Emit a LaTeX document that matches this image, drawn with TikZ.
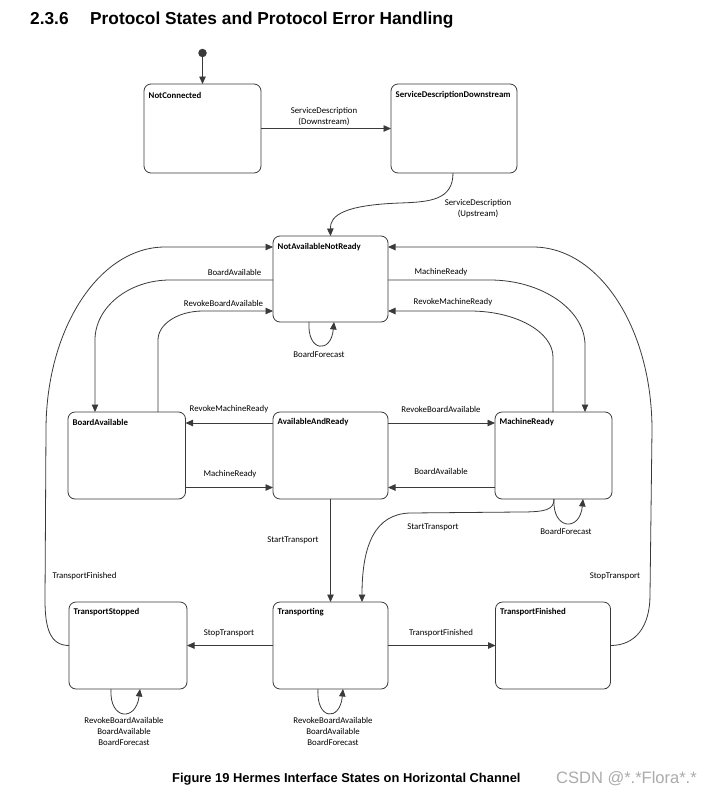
\documentclass[tikz,border=0pt]{standalone}
\usepackage{fontspec}
\setmainfont{Carlito}
\newfontfamily\arialfont{Liberation Sans}
\usetikzlibrary{arrows.meta}
\definecolor{linec}{HTML}{3A3A3A}
\definecolor{wmark}{HTML}{ABABAB}
\begin{document}
\begin{tikzpicture}[x=1pt,y=-1pt,
  state/.style={draw=linec, line width=0.8pt, rounded corners=7pt, inner sep=0pt, outer sep=0pt},
  sname/.style={font=\fontsize{8.8}{10}\selectfont\bfseries, anchor=west, inner sep=0pt},
  tr/.style={font=\fontsize{8.8}{11}\selectfont, inner sep=0pt, align=center},
  arr/.style={draw=linec, line width=0.8pt, -{Triangle[length=7.5pt,width=6.5pt]}},
  ttl/.style={font={\arialfont\bfseries\fontsize{17.3}{20}\selectfont}, anchor=base west, inner sep=0pt},
  captext/.style={font={\arialfont\bfseries\fontsize{12.9}{15}\selectfont}, anchor=base west, inner sep=0pt}
]
\useasboundingbox (0,0) rectangle (715,793);
\fill[white] (0,0) rectangle (715,793);

% title
\node[ttl] (secnum) at (30,24) {2.3.6};
\node[ttl] (title) at (90,24) {Protocol States and Protocol Error Handling};

% states
\node[state, minimum width=117pt, minimum height=89pt] (NC) at (202.5,128.5) {};
\node[state, minimum width=126pt, minimum height=89pt] (SDD) at (454,128.5) {};
\node[state, minimum width=115pt, minimum height=86pt] (NANR) at (330.5,279) {};
\node[state, minimum width=117.5pt, minimum height=87pt] (BA) at (126.75,455.5) {};
\node[state, minimum width=115pt, minimum height=87pt] (AAR) at (330.5,455.5) {};
\node[state, minimum width=117pt, minimum height=87pt] (MR) at (553.5,455.5) {};
\node[state, minimum width=118pt, minimum height=87pt] (TS) at (128,645.5) {};
\node[state, minimum width=115pt, minimum height=87pt] (TR) at (330.5,645.5) {};
\node[state, minimum width=115pt, minimum height=87pt] (TF) at (553,645.5) {};

\node[sname] (NCl) at ([shift={(4.5pt,-11pt)}]NC.north west) {NotConnected};
\node[sname] (SDDl) at ([shift={(4.5pt,-11pt)}]SDD.north west) {ServiceDescriptionDownstream};
\node[sname] (NANRl) at ([shift={(4.5pt,-11pt)}]NANR.north west) {NotAvailableNotReady};
\node[sname] (BAl) at ([shift={(4.5pt,-10.5pt)}]BA.north west) {BoardAvailable};
\node[sname] (AARl) at ([shift={(4.5pt,-10.5pt)}]AAR.north west) {AvailableAndReady};
\node[sname] (MRl) at ([shift={(4.5pt,-10.5pt)}]MR.north west) {MachineReady};
\node[sname] (TSl) at ([shift={(4.5pt,-10.5pt)}]TS.north west) {TransportStopped};
\node[sname] (TRl) at ([shift={(4.5pt,-10.5pt)}]TR.north west) {Transporting};
\node[sname] (TFl) at ([shift={(4.5pt,-10.5pt)}]TF.north west) {TransportFinished};

% initial
\node[circle, fill=linec, inner sep=0pt, minimum size=8.5pt] (init) at (202.5,53) {};
\draw[arr] (init) -- (NC);

% top transitions
\draw[arr] (NC) -- (SDD);
\draw[arr] (SDD.south -| 453,0) .. controls (453,200) and (430,202) .. (400,203)
  .. controls (345,205) and (330,215) .. (NANR.north);

% left side
\draw[arr] (TS.west) .. controls (50,645.5) and (45,628) .. (45,600) -- (46,430)
  .. controls (46,329) and (99,247) .. (165,247) -- (NANR.west |- 0,247);
\draw[arr] (NANR.west |- 0,280) -- (170,280) .. controls (129,280) and (95,307) .. (95,340) -- (BA.north -| 95,0);
\draw[arr] (BA.north -| 158,0) -- (158,340) .. controls (158,324) and (178,311) .. (203,311) -- (NANR.west |- 0,311);

% right side
\draw[arr] (NANR.east |- 0,280) -- (490,280) .. controls (542,280) and (585,310) .. (585,345) -- (MR.north -| 585,0);
\draw[arr] (MR.north -| 553,0) -- (553,357) .. controls (553,332) and (516,311) .. (470,311) -- (NANR.east |- 0,311);
\draw[arr] (TF.east) .. controls (636,645.5) and (650,626) .. (650,595) -- (652,430)
  .. controls (652,328) and (599,247) .. (533,247) -- (NANR.east |- 0,247);

% self loops
\draw[arr] (NANR.south -| 309,0) .. controls (307,352) and (331,354) .. (NANR.south -| 334,0);
\draw[arr] (MR.south -| 554,0) .. controls (552,530) and (580,532) .. (MR.south -| 583,0);
\draw[arr] (TS.south -| 111,0) .. controls (109,720) and (136,722) .. (TS.south -| 140,0);
\draw[arr] (TR.south -| 318,0) .. controls (316,720) and (340,722) .. (TR.south -| 343,0);

% middle row
\draw[arr] (AAR.west |- 0,423) -- (BA.east |- 0,423);
\draw[arr] (BA.east |- 0,487.5) -- (AAR.west |- 0,487.5);
\draw[arr] (AAR.east |- 0,423) -- (MR.west |- 0,423);
\draw[arr] (MR.west |- 0,487.5) -- (AAR.east |- 0,487.5);
\draw[arr] (AAR) -- (TR);
\draw[arr] (MR.south -| 554,0) .. controls (554,510) and (545,512) .. (520,512) -- (410,513)
  .. controls (375,514) and (362,545) .. (TR.north -| 362,0);

% bottom row
\draw[arr] (TR) -- (TS);
\draw[arr] (TR) -- (TF);

% transition labels
\node[tr] (lSDd) at (324,116.5) {ServiceDescription\\(Downstream)};
\node[tr] (lSDu) at (478,209) {ServiceDescription\\(Upstream)};
\node[tr] (lBA1) at (234.5,272) {BoardAvailable};
\node[tr] (lRBA1) at (223.5,303) {RevokeBoardAvailable};
\node[tr] (lMR1) at (441,272) {MachineReady};
\node[tr] (lRMR1) at (453,302) {RevokeMachineReady};
\node[tr] (lBF1) at (319,354) {BoardForecast};
\node[tr] (lRMR2) at (229,409) {RevokeMachineReady};
\node[tr] (lMR2) at (230,474) {MachineReady};
\node[tr] (lRBA2) at (441,409) {RevokeBoardAvailable};
\node[tr] (lBA2) at (441,471) {BoardAvailable};
\node[tr] (lST1) at (293,540) {StartTransport};
\node[tr] (lST2) at (433,527.5) {StartTransport};
\node[tr] (lBF2) at (566,531) {BoardForecast};
\node[tr] (lTF1) at (84.5,576) {TransportFinished};
\node[tr] (lSTp1) at (615,576) {StopTransport};
\node[tr] (lSTp2) at (229,633) {StopTransport};
\node[tr] (lTF2) at (441,633) {TransportFinished};
\node[tr] (lTSloop) at (124,731) {RevokeBoardAvailable\\BoardAvailable\\BoardForecast};
\node[tr] (lTRloop) at (333,731) {RevokeBoardAvailable\\BoardAvailable\\BoardForecast};

% caption
\node[captext] (caption) at (172,782) {Figure 19 Hermes Interface States on Horizontal Channel};
\node[anchor=base west, inner sep=0pt, text=wmark, font={\arialfont\fontsize{16.5}{19}\selectfont}] (wm) at (556,783) {CSDN @*.*Flora*.*};
\end{tikzpicture}
\end{document}
